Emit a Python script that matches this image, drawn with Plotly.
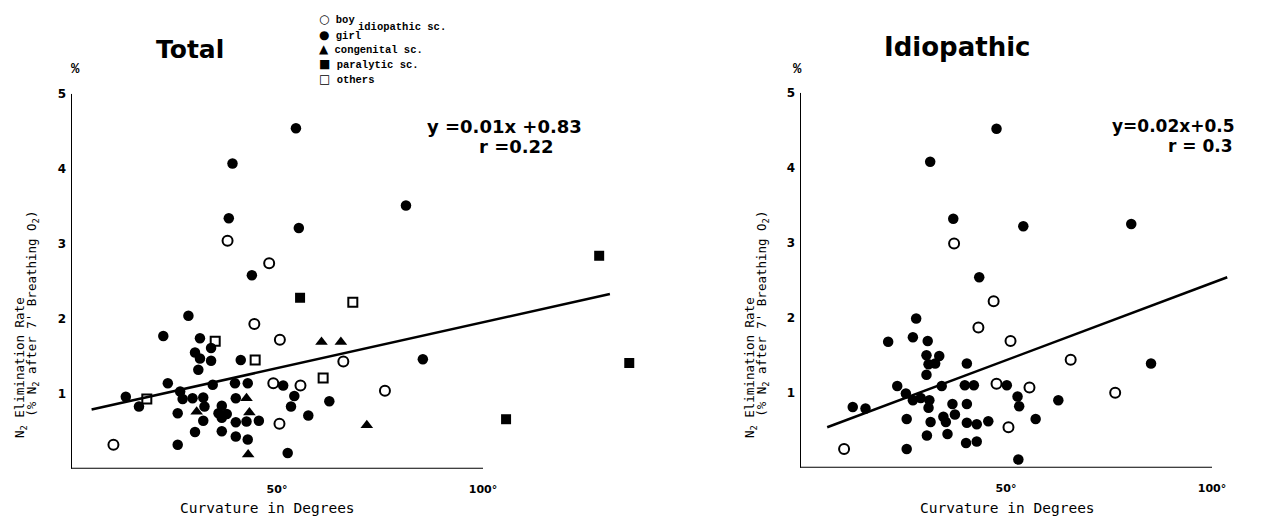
import plotly.graph_objects as go

W, H = 1266, 521

# ---------------- data ----------------
# Total panel
total_boy_x = [38.0, 48.1, 44.5, 50.7, 66.1, 49.1, 55.7, 76.2, 50.6, 10.3]
total_boy_y = [3.04, 2.74, 1.93, 1.72, 1.43, 1.14, 1.11, 1.04, 0.60, 0.32]
total_girl_x = [54.6, 39.2, 38.3, 55.3, 43.9, 81.3, 85.4,
                28.5, 22.4, 31.3, 30.1, 34.0, 31.3, 34.0, 41.2, 30.9,
                23.5, 34.4, 39.8, 42.9, 51.5,
                13.3, 16.5, 26.5, 27.1, 29.5, 32.1, 32.4, 40.0, 54.2, 53.4, 62.7,
                25.9, 36.6, 35.8, 37.8, 36.6, 32.1, 40.0, 42.6, 45.6, 57.6,
                30.1, 36.6, 40.0, 42.9, 25.9, 52.6]
total_girl_y = [4.54, 4.07, 3.34, 3.21, 2.58, 3.51, 1.46,
                2.04, 1.77, 1.74, 1.55, 1.61, 1.47, 1.44, 1.45, 1.32,
                1.14, 1.12, 1.14, 1.14, 1.11,
                0.96, 0.83, 1.03, 0.93, 0.94, 0.95, 0.83, 0.94, 0.97, 0.83, 0.90,
                0.74, 0.84, 0.74, 0.73, 0.68, 0.64, 0.62, 0.63, 0.64, 0.71,
                0.49, 0.50, 0.43, 0.39, 0.32, 0.21]
total_cong_x = [60.8, 65.5, 42.6, 30.5, 43.3, 71.8, 43.0]
total_cong_y = [1.69, 1.69, 0.94, 0.76, 0.75, 0.58, 0.19]
total_para_x = [55.6, 128.2, 105.6, 135.5]
total_para_y = [2.28, 2.84, 0.66, 1.41]
total_other_x = [68.4, 35.0, 44.7, 61.2, 18.4]
total_other_y = [2.22, 1.70, 1.45, 1.21, 0.93]
total_fit_x = [5.0, 130.8]
total_fit_y = [0.79, 2.33]

# Idiopathic panel
idio_boy_x = [37.4, 47.0, 43.3, 51.1, 47.7, 50.6, 10.7, 65.7, 55.7, 76.5]
idio_boy_y = [2.99, 2.22, 1.87, 1.69, 1.12, 0.54, 0.25, 1.44, 1.07, 1.00]
idio_girl_x = [47.7, 31.6, 37.2, 54.2, 80.4, 43.5, 28.2, 27.4, 31.0, 21.4, 30.7, 33.8,
               31.2, 32.8, 40.5, 30.7, 85.2,
               23.6, 34.4, 40.0, 42.2, 50.2, 25.7, 27.4, 29.3, 31.4, 31.2, 12.8, 15.9,
               37.0, 40.5, 52.8, 53.2, 62.7,
               25.9, 31.7, 34.8, 35.4, 37.6, 40.5, 42.9, 45.7, 57.2,
               30.8, 35.8, 40.3, 42.9, 25.9, 53.0]
idio_girl_y = [4.52, 4.08, 3.32, 3.22, 3.25, 2.54, 1.99, 1.74, 1.69, 1.68, 1.50, 1.49,
               1.38, 1.39, 1.39, 1.24, 1.39,
               1.09, 1.09, 1.10, 1.10, 1.10, 0.99, 0.90, 0.93, 0.90, 0.80, 0.81, 0.79,
               0.85, 0.85, 0.95, 0.82, 0.90,
               0.65, 0.61, 0.68, 0.61, 0.71, 0.60, 0.58, 0.62, 0.65,
               0.43, 0.45, 0.33, 0.35, 0.25, 0.11]
idio_fit_x = [6.6, 103.7]
idio_fit_y = [0.54, 2.54]

y_ticks = [1, 2, 3, 4, 5]
x_ticks = [50, 100]
x_tick_text = ["50°", "100°"]
axis_x_max = 100
axis_y_max = 5

# ---------------- figure ----------------
fig = go.Figure()

BLACK = "#000000"


def add_points(x, y, symbol, size, xa, ya, name):
    fig.add_trace(go.Scatter(
        x=x, y=y, mode="markers", name=name, xaxis=xa, yaxis=ya,
        cliponaxis=False,
        marker=dict(symbol=symbol, size=size, color=BLACK,
                    line=dict(color=BLACK, width=2 if "open" in symbol else 0)),
        showlegend=False))


add_points(total_girl_x, total_girl_y, "circle", 10.5, "x", "y", "girl")
add_points(total_boy_x, total_boy_y, "circle-open", 10, "x", "y", "boy")
add_points(total_cong_x, total_cong_y, "triangle-up", 11, "x", "y", "congenital sc.")
add_points(total_para_x, total_para_y, "square", 10, "x", "y", "paralytic sc.")
add_points(total_other_x, total_other_y, "square-open", 9, "x", "y", "others")
fig.add_trace(go.Scatter(x=total_fit_x, y=total_fit_y, mode="lines", xaxis="x", yaxis="y",
                         line=dict(color=BLACK, width=2.5), showlegend=False))

add_points(idio_girl_x, idio_girl_y, "circle", 10.5, "x2", "y2", "girl")
add_points(idio_boy_x, idio_boy_y, "circle-open", 10, "x2", "y2", "boy")
fig.add_trace(go.Scatter(x=idio_fit_x, y=idio_fit_y, mode="lines", xaxis="x2", yaxis="y2",
                         line=dict(color=BLACK, width=2.5), showlegend=False))

# axis lines (x axis stops at 100 degrees)
for xr, yr in (("x", "y"), ("x2", "y2")):
    fig.add_shape(type="line", xref=xr, yref=yr, x0=0, y0=0, x1=axis_x_max, y1=0,
                  line=dict(color=BLACK, width=2))
    fig.add_shape(type="line", xref=xr, yref=yr, x0=0, y0=0, x1=0, y1=axis_y_max,
                  line=dict(color=BLACK, width=2))

tickfont = dict(family="DejaVu Sans", size=12, color=BLACK)
common_x = dict(showgrid=False, zeroline=False, showline=False, ticks="",
                tickvals=x_ticks, ticktext=["<b>%s</b>" % t for t in x_tick_text],
                tickfont=dict(family="DejaVu Sans", size=11, color=BLACK),
                ticklabelstandoff=12, fixedrange=True)
common_y = dict(showgrid=False, zeroline=False, showline=False, ticks="",
                tickvals=y_ticks, ticktext=["<b>%d</b>" % t for t in y_ticks],
                tickfont=tickfont, ticklabelstandoff=4, range=[0, 5], fixedrange=True)


def fx(px):
    return px / W


def fy(py):
    return 1 - py / H


fig.update_layout(
    width=W, height=H,
    margin=dict(l=0, r=0, t=0, b=0),
    paper_bgcolor="white", plot_bgcolor="white",
    xaxis=dict(domain=[fx(71), fx(650)], range=[0, (650 - 71) / 4.12], **common_x),
    yaxis=dict(domain=[fy(468), fy(88)], anchor="x", **common_y),
    xaxis2=dict(domain=[fx(800), fx(1250)], range=[0, (1250 - 800) / 4.12], anchor="y2", **common_x),
    yaxis2=dict(domain=[fy(467), fy(87)], anchor="x2", **common_y),
)

ann = []


def text(x, y, t, size, family, xanchor="center", angle=0):
    ann.append(dict(x=fx(x), y=fy(y), xref="paper", yref="paper", text=t, showarrow=False,
                    xanchor=xanchor, yanchor="middle", textangle=angle,
                    font=dict(family=family, size=size, color=BLACK)))


SANS = "DejaVu Sans"
MONO = "DejaVu Sans Mono"
TYPE = "Liberation Mono"

# titles
text(190, 43, "<b>Total</b>", 25, SANS)
text(957, 41, "<b>Idiopathic</b>", 26, SANS)

# % signs
text(75, 63, "<b>%</b>", 14, TYPE)
text(797, 63, "<b>%</b>", 14, TYPE)

# legend (symbol glyphs drawn a bit larger than the words)
SYM = "<span style='font-family:DejaVu Sans;font-size:12px'>%s</span>"
text(317, 12, SYM % "○" + "<b> boy</b>", 10.5, TYPE, "left")
text(356, 20, "<b>idiopathic sc.</b>", 10.5, TYPE, "left")
text(317, 28, SYM % "●" + "<b> girl</b>", 10.5, TYPE, "left")
text(317, 43, SYM % "▲" + "<b> congenital sc.</b>", 10.5, TYPE, "left")
text(317, 58, SYM % "■" + "<b> paralytic sc.</b>", 10.5, TYPE, "left")
text(317, 73, SYM % "□" + "<b> others</b>", 10.5, TYPE, "left")

# equations
text(504, 121, "<b>y =0.01x +0.83</b>", 18, SANS)
text(516, 141, "<b>r =0.22</b>", 18, SANS)
text(1173, 121, "<b>y=0.02x+0.5</b>", 17, SANS)
text(1200, 141, "<b>r = 0.3</b>", 17, SANS)

# x-axis titles
text(267, 508, "Curvature in Degrees", 14.5, MONO)
text(1007, 508, "Curvature in Degrees", 14.5, MONO)

# y-axis titles (two lines each)
for x0 in (0, 730):
    text(x0 + 20, 366, "N<sub>2</sub> Elimination Rate", 12.5, MONO, angle=-90)
    text(x0 + 33, 311, "(% N<sub>2</sub> after 7' Breathing O<sub>2</sub>)", 12.5, MONO, angle=-90)

fig.update_layout(annotations=ann)

fig.write_html("out.html", config={"displayModeBar": False},
               post_script="document.body.style.margin='0';")
